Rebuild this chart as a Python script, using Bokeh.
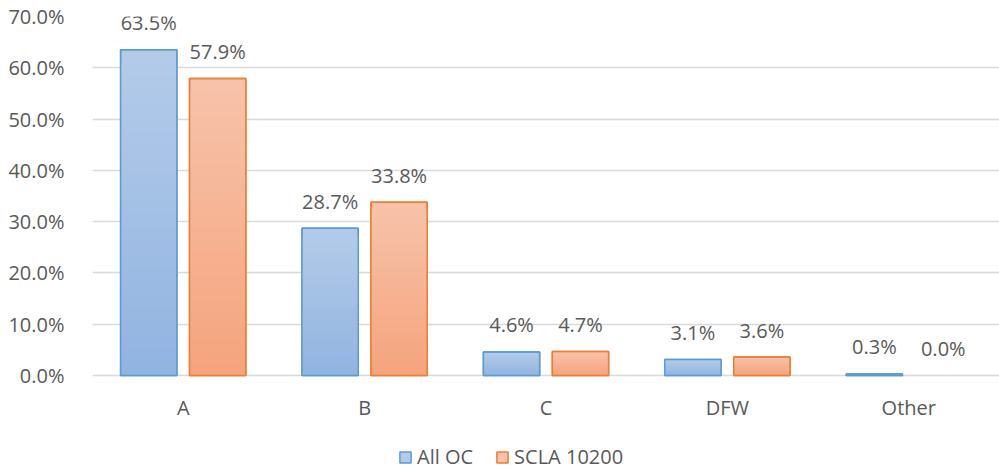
from bokeh.plotting import figure
from bokeh.models import (ColumnDataSource, FactorRange, Range1d, NumeralTickFormatter,
                          FixedTicker, Legend, LegendItem)
from bokeh.core.properties import value
from bokeh.transform import dodge
from bokeh.embed import file_html
from bokeh.resources import INLINE

categories = ["A", "B", "C", "DFW", "Other"]
all_oc = [0.635, 0.287, 0.046, 0.031, 0.003]
scla = [0.579, 0.338, 0.047, 0.036, 0.000]
series_names = ["All OC", "SCLA 10200"]
y_ticks = [0.0, 0.1, 0.2, 0.3, 0.4, 0.5, 0.6, 0.7]

FONT = "Open Sans"
FS = "20px"
TXT = "#595959"
GRID = "#d9d9d9"

# frame spans the full height below the top margin; value 0 sits 97px above the bottom
H, TOP, BOTTOM_GAP = 472, 16, 97
y_max = 0.7
y_min = -y_max * BOTTOM_GAP / (H - TOP - BOTTOM_GAP)

p = figure(x_range=FactorRange(*categories), y_range=Range1d(y_min, y_max),
           width=999, height=H, output_backend="svg", toolbar_location=None,
           min_border_left=92, min_border_right=0, min_border_top=TOP, min_border_bottom=0)
p.outline_line_color = None
p.background_fill_color = "white"
p.xaxis.visible = False
p.xgrid.grid_line_color = None
p.ygrid.grid_line_color = GRID
p.ygrid.grid_line_width = 1.3
p.yaxis.ticker = FixedTicker(ticks=y_ticks)
p.yaxis.formatter = NumeralTickFormatter(format="0.0%")
p.yaxis.major_tick_line_color = None
p.yaxis.minor_tick_line_color = None
p.yaxis.major_label_text_font = FONT
p.yaxis.major_label_text_font_size = FS
p.yaxis.major_label_text_color = TXT
p.yaxis.axis_line_color = None
p.yaxis.major_label_standoff = 22

def hex2rgb(h):
    return tuple(int(h[i:i + 2], 16) for i in (1, 3, 5))

def mix(c1, c2, t):
    a, b = hex2rgb(c1), hex2rgb(c2)
    return "#%02x%02x%02x" % tuple(round(a[i] + (b[i] - a[i]) * t) for i in range(3))

specs = [
    (all_oc, -0.19, "#b3cbe9", "#92b4e1", "#5b9bd5"),
    (scla, 0.19, "#f7c2a9", "#f5a47e", "#ed7d31"),
]
N = 24
W = 0.31
legend_items = []
for (vals, off, ctop, cbot, cline), name in zip(specs, series_names):
    first = None
    la = [1.0 if v > 0 else 0.0 for v in vals]
    for k in range(N):
        frac = 1 - k / N
        src = ColumnDataSource(dict(cat=categories, top=[v * frac for v in vals], la=la))
        r = p.vbar(x=dodge("cat", off, range=p.x_range), top="top", bottom=0, width=W,
                   source=src, fill_color=mix(ctop, cbot, k / (N - 1)),
                   line_color=cline if k == 0 else None, line_width=1.5,
                   line_alpha="la", fill_alpha="la")
        if k == 0:
            first = r
    src = ColumnDataSource(dict(cat=categories, top=vals, la=la,
                                lab=["%.1f%%" % (v * 100) for v in vals]))
    p.vbar(x=dodge("cat", off, range=p.x_range), top="top", bottom=0, width=W,
           source=src, fill_color=None, line_color=cline, line_width=1.5, line_alpha="la")
    p.text(x=dodge("cat", off, range=p.x_range), y="top", text="lab", source=src,
           text_align="center", text_baseline="alphabetic", y_offset=-27,
           text_font=value(FONT), text_font_size=FS, text_color=TXT)
    legend_items.append(LegendItem(label=name, renderers=[first]))

# category labels under the zero line
cat_src = ColumnDataSource(dict(cat=categories, y=[0] * len(categories)))
p.text(x="cat", y="y", text="cat", source=cat_src, text_align="center",
       text_baseline="middle", y_offset=32, text_font=value(FONT),
       text_font_size=FS, text_color=TXT)

legend = Legend(items=legend_items, orientation="horizontal", location=(306, 2),
                label_text_font=FONT, label_text_font_size=FS, label_text_color=TXT,
                glyph_width=14, glyph_height=14, spacing=22, label_standoff=5,
                padding=0, margin=0, border_line_alpha=0, background_fill_alpha=0)
p.add_layout(legend, "center")

open("out.html", "w").write(file_html(p, INLINE))
